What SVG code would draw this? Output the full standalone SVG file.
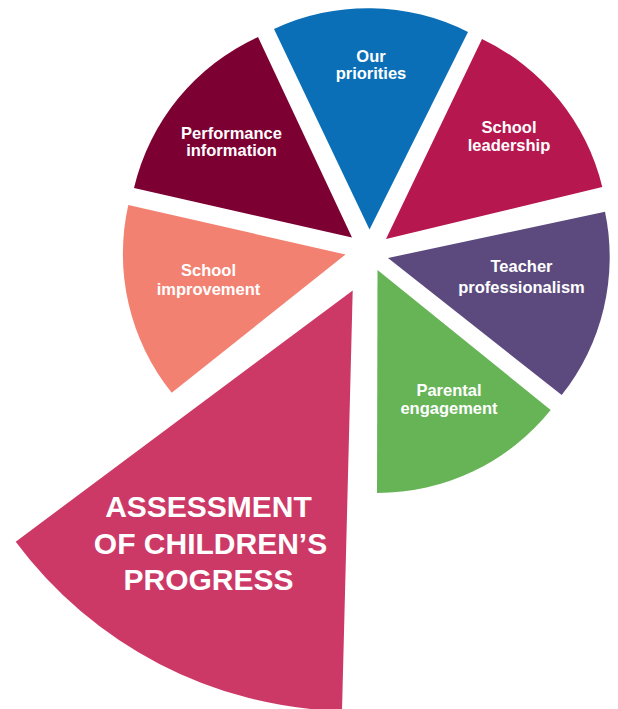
<svg xmlns="http://www.w3.org/2000/svg" width="618" height="709" viewBox="0 0 618 709">
<style>
.lbl{font-family:"Liberation Sans",Arial,sans-serif;font-weight:bold;font-size:16.5px;fill:#ffffff;text-anchor:middle}
.big{font-family:"Liberation Sans",Arial,sans-serif;font-weight:bold;font-size:30px;fill:#ffffff;text-anchor:middle}
</style>
<rect width="618" height="709" fill="#ffffff"/>
<g id="our-priorities">
<path d="M369.5,229.5 L274,29 A222,222 0 0,1 468,32 Z" fill="#0a6fb7"/>
<text class="lbl" x="371" y="61.5">Our</text>
<text class="lbl" x="371" y="79">priorities</text>
</g>
<g id="performance-information">
<path d="M352,237.5 L134,188 A222,222 0 0,1 258,37 Z" fill="#7d0033"/>
<text class="lbl" x="231.5" y="138.5">Performance</text>
<text class="lbl" x="231.5" y="155.5">information</text>
</g>
<g id="school-leadership">
<path d="M386,239 L482,39 A222,222 0 0,1 602.3,187 Z" fill="#b7174f"/>
<text class="lbl" x="509" y="133">School</text>
<text class="lbl" x="509" y="151">leadership</text>
</g>
<g id="teacher-professionalism">
<path d="M388,258 L605,211.7 A222,222 0 0,1 561.7,395 Z" fill="#5c4a7e"/>
<text class="lbl" x="521.5" y="272">Teacher</text>
<text class="lbl" x="521.5" y="292.5">professionalism</text>
</g>
<g id="parental-engagement">
<path d="M377.5,270 L550.7,410 A222.5,222.5 0 0,1 377,493 Z" fill="#67b457"/>
<text class="lbl" x="449" y="396">Parental</text>
<text class="lbl" x="449" y="413.5">engagement</text>
</g>
<g id="assessment">
<path d="M352.7,290.5 L342,711 A420.6,420.6 0 0,1 15.7,541.7 Z" fill="#cd3966"/>
<text class="big" x="208.5" y="517">ASSESSMENT</text>
<text class="big" x="210.5" y="553.5">OF CHILDREN’S</text>
<text class="big" x="208.5" y="590">PROGRESS</text>
</g>
<g id="school-improvement">
<path d="M345.5,254.5 L171.7,392.7 A222,222 0 0,1 128.3,205 Z" fill="#f38171"/>
<text class="lbl" x="208.5" y="276">School</text>
<text class="lbl" x="208.5" y="294.5">improvement</text>
</g>
</svg>
